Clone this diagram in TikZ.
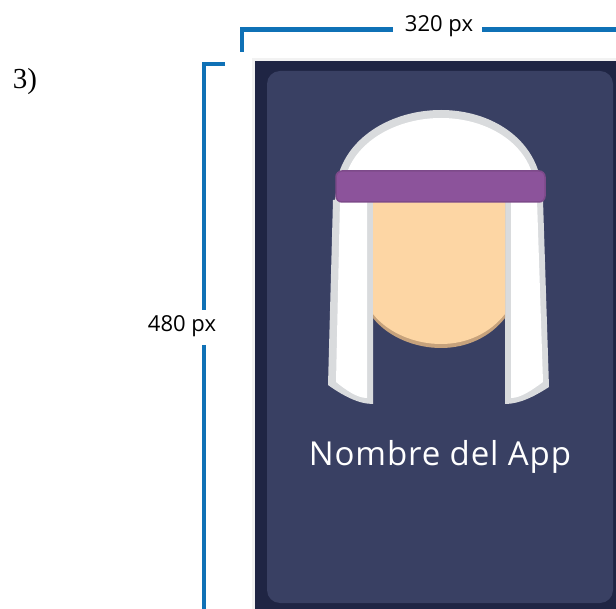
\documentclass[tikz,border=0pt]{standalone}
\usepackage{fontspec}
\setmainfont{Liberation Serif}
\newfontfamily\labelfont{Open Sans}
\newfontfamily\appfont[LetterSpace=2.6]{Open Sans}
\usepackage{xcolor}
\definecolor{rulerblue}{HTML}{0F71B6}
\definecolor{phonedark}{HTML}{1F2544}
\definecolor{screenblue}{HTML}{394063}
\definecolor{hatgray}{HTML}{D9DBDD}
\definecolor{skin}{HTML}{FDD6A4}
\definecolor{skinshade}{HTML}{C6A27C}
\definecolor{bandpurple}{HTML}{8C539B}
\definecolor{bandedge}{HTML}{7D4A8A}
\tikzset{
	ruler/.style={line width=4.5pt,rulerblue},
	sizelabel/.style={font=\labelfont\fontsize{22}{24}\selectfont,text=black,inner sep=0pt},
}
\begin{document}
\begin{tikzpicture}[x=1pt,y=-1pt]
	\useasboundingbox (0,0) rectangle (616,609);
	\node (step label) at (25,82) {\fontsize{29}{32}\selectfont 3)};
	% rulers
	\node[sizelabel] (width label) at (439,26) {320 px};
	\node[sizelabel] (height label) at (182,326) {480 px};
	\draw[ruler] (242,52)--(242,29.5)--(393,29.5);
	\draw[ruler] (482,29.5)--(616,29.5);
	\draw[ruler] (225,64)--(204,64)--(204,310);
	\draw[ruler] (204,345)--(204,609);
	% phone
	\fill[black!5] (252,58) rectangle (616,609);
	\fill[phonedark] (255,61.5) rectangle (616,609);
	\fill[screenblue,rounded corners=13pt] (267,71) rectangle (613,603);
	% hat
	\fill[hatgray] (333,210)--(340,170) .. controls (354,132) and (397,110) .. (441,110) .. controls (485,110) and (525,132) .. (538,170)--(543,210)--cycle;
	\fill[white] (340,210)--(348,170) .. controls (361,138) and (400,118) .. (441,118) .. controls (482,118) and (519,138) .. (531,170)--(537,210)--cycle;
	\fill[hatgray] (333,200)--(328,385) .. controls (342,395) and (358,404) .. (373,404)--(373,200)--cycle;
	\fill[white] (340,200)--(336,382) .. controls (346,390) and (357,398) .. (367,398)--(367,200)--cycle;
	\fill[hatgray] (543,200)--(549,387) .. controls (535,396) and (520,404) .. (505,404)--(505,200)--cycle;
	\fill[white] (537,200)--(543,382) .. controls (532,390) and (521,398) .. (511,398)--(511,200)--cycle;
	% face
	\fill[skinshade] (373,200)--(373,318) .. controls (388,337) and (415,348) .. (441,348) .. controls (467,348) and (490,337) .. (505,318)--(505,200)--cycle;
	\fill[skin] (373,200)--(373,314) .. controls (388,333) and (415,344) .. (441,344) .. controls (467,344) and (490,333) .. (505,314)--(505,200)--cycle;
	% band
	\draw[bandedge,fill=bandpurple,line width=1.5pt,rounded corners=6pt] (336,171) rectangle (545,202);
	\node[text=white,font=\appfont\fontsize{33}{35}\selectfont,inner sep=0pt] (app name) at (440,457) {Nombre del App};
\end{tikzpicture}
\end{document}
